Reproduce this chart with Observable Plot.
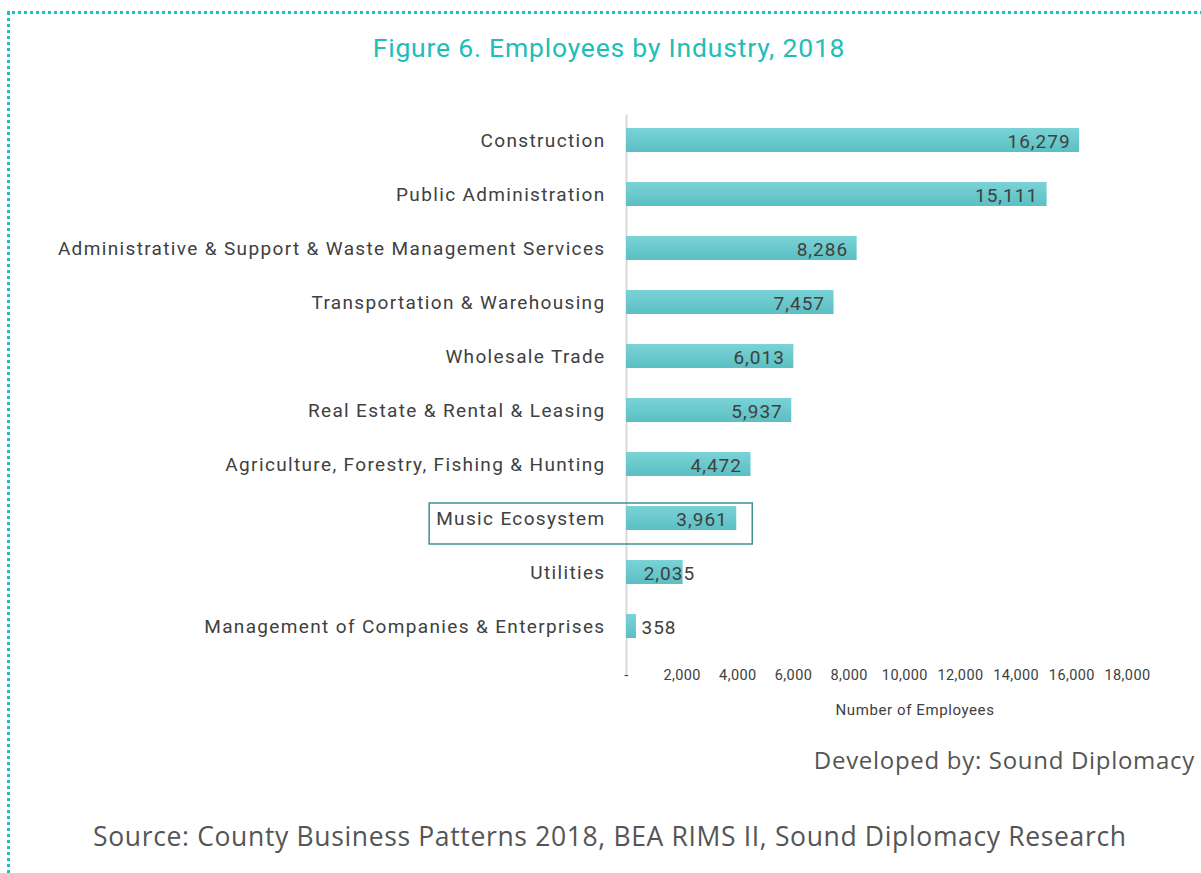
<!DOCTYPE html>
<html>
<head>
<meta charset="utf-8">
<script src="https://cdn.jsdelivr.net/npm/d3@7"></script>
<script src="https://cdn.jsdelivr.net/npm/@observablehq/plot@0.6"></script>
<style>
  html, body { margin: 0; padding: 0; background: #fff; }
  #page { position: relative; width: 1201px; height: 873px; overflow: hidden; font-family: Roboto, sans-serif; }
  #frame { position: absolute; left: 7px; top: 11px; right: -20px; bottom: -20px;
           border-top: 3px dotted #16c2c2; border-left: 3px dotted #16c2c2; }
  #title { position: absolute; top: 32px; left: 0; width: 1218px; text-align: center;
           font-size: 26.5px; color: #20bdb9; font-weight: 400; letter-spacing: 0.8px; }
  #chart { position: absolute; top: 90px; left: 0; }
  #chart svg text.cat { letter-spacing: 1.35px; }
  #chart svg text.val { letter-spacing: 1px; }
  #chart svg g.xt text { letter-spacing: 0.4px; }
  #xlabel { position: absolute; top: 701px; left: 815px; width: 200px; text-align: center;
            font-size: 15px; color: #404040; letter-spacing: 0.6px; }
  #dev { position: absolute; top: 743px; right: 6px; font-family: "Open Sans", sans-serif;
         font-size: 24px; color: #555; letter-spacing: 0.7px; }
  #src { position: absolute; top: 818px; left: 93px; font-family: "Open Sans", sans-serif;
         font-size: 26.5px; color: #555; letter-spacing: 0.65px; }
</style>
</head>
<body>
<div id="page">
  <div id="frame"></div>
  <div id="title">Figure 6. Employees by Industry, 2018</div>
  <div id="chart"></div>
  <div id="xlabel">Number of Employees</div>
  <div id="dev">Developed by: Sound Diplomacy</div>
  <div id="src">Source: County Business Patterns 2018, BEA RIMS II, Sound Diplomacy Research</div>
</div>
<script>
const industries = [
  "Construction",
  "Public Administration",
  "Administrative & Support & Waste Management Services",
  "Transportation & Warehousing",
  "Wholesale Trade",
  "Real Estate & Rental & Leasing",
  "Agriculture, Forestry, Fishing & Hunting",
  "Music Ecosystem",
  "Utilities",
  "Management of Companies & Enterprises"
];
const employees = [16279, 15111, 8286, 7457, 6013, 5937, 4472, 3961, 2035, 358];
const xTicks = [0, 2000, 4000, 6000, 8000, 10000, 12000, 14000, 16000, 18000];
const highlighted = "Music Ecosystem";

const data = industries.map((name, i) => ({name, value: employees[i]}));
const fmt = d3.format(",");

const inside = data.filter(d => d.value >= 3000);
const mid = data.filter(d => d.value >= 1000 && d.value < 3000);
const outside = data.filter(d => d.value < 1000);

const textStyle = {fill: "#404040", fontSize: 19, fontFamily: "Roboto, sans-serif", className: "val"};

const chart = Plot.plot({
  width: 1201,
  height: 630,
  marginLeft: 626,
  marginRight: 74,
  marginTop: 7.5,
  marginBottom: 51,
  style: {fontFamily: "Roboto, sans-serif", color: "#404040", background: "transparent"},
  x: {domain: [0, 18000], axis: null},
  y: {domain: industries, padding: 0.554, axis: null},
  marks: [
    Plot.ruleX([0], {stroke: "#d9d9d9", strokeWidth: 2, insetTop: 17, insetBottom: -6}),
    Plot.barX(data, {x: "value", y: "name", fill: "url(#barGrad)"}),
    Plot.axisY({tickSize: 0, tickPadding: 21, fontSize: 19, fill: "#404040", label: null, className: "cat"}),
    Plot.axisX({ticks: xTicks, tickSize: 0, tickPadding: 0, fontSize: 14.5, fill: "#404040", label: null,
                className: "xt", tickFormat: d => d === 0 ? "-" : fmt(d)}),
    Plot.text(inside, {x: "value", y: "name", text: d => fmt(d.value), textAnchor: "end", dx: -9, dy: 1, ...textStyle}),
    Plot.text(mid, {x: "value", y: "name", text: d => fmt(d.value), textAnchor: "end", dx: 12, dy: 1, ...textStyle}),
    Plot.text(outside, {x: "value", y: "name", text: d => fmt(d.value), textAnchor: "start", dx: 5, dy: 1, ...textStyle})
  ]
});

chart.querySelectorAll("g.cat text").forEach(t => t.classList.add("cat"));
chart.querySelectorAll("g.val text").forEach(t => t.classList.add("val"));

// gradient for bars
const ns = "http://www.w3.org/2000/svg";
const defs = document.createElementNS(ns, "defs");
defs.innerHTML = `<linearGradient id="barGrad" x1="0" y1="0" x2="0" y2="1">
  <stop offset="0" stop-color="#7ad3d6"/>
  <stop offset="1" stop-color="#5bbfc3"/>
</linearGradient>`;
chart.insertBefore(defs, chart.firstChild);

document.getElementById("chart").appendChild(chart);

// highlight box around the Music Ecosystem row, sized from the rendered label and bar
const xs = chart.scale("x"), ys = chart.scale("y");
const yTop = ys.apply(highlighted);
const bw = ys.bandwidth;
const label = Array.from(chart.querySelectorAll("g.cat text")).find(t => t.textContent === highlighted);
const svgRect = chart.getBoundingClientRect();
let left = 430;
if (label) left = label.getBoundingClientRect().left - svgRect.left - 7;
const right = xs.apply(employees[industries.indexOf(highlighted)]) + 16;
const box = document.createElementNS(ns, "rect");
box.setAttribute("x", left);
box.setAttribute("y", yTop - 3);
box.setAttribute("width", right - left);
box.setAttribute("height", bw + 17);
box.setAttribute("fill", "none");
box.setAttribute("stroke", "#3f9090");
box.setAttribute("stroke-width", 1.5);
chart.appendChild(box);
</script>
</body>
</html>
